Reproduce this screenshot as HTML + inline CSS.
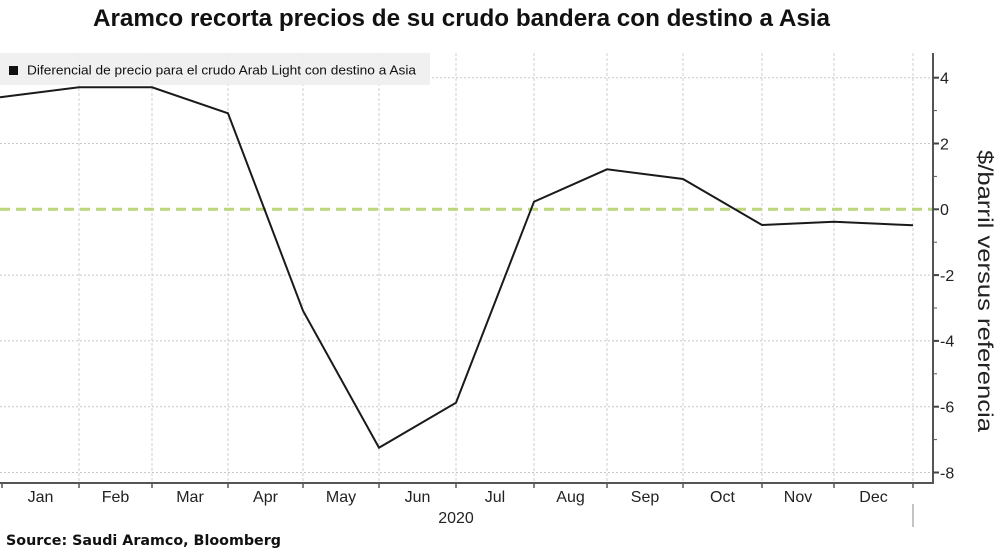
<!DOCTYPE html>
<html>
<head>
<meta charset="utf-8">
<style>
html,body{margin:0;padding:0;background:#fff;}
svg{display:block;}
</style>
</head>
<body>
<svg width="1000" height="550" viewBox="0 0 1000 550" xmlns="http://www.w3.org/2000/svg">
  <rect x="0" y="0" width="1000" height="550" fill="#fff"/>
  <!-- Title -->
  <text x="93" y="26" font-family="Liberation Sans, sans-serif" font-weight="bold" font-size="24" fill="#111" textLength="737" lengthAdjust="spacingAndGlyphs">Aramco recorta precios de su crudo bandera con destino a Asia</text>

  <!-- horizontal gridlines -->
  <g stroke="#c8c8c8" stroke-width="1" stroke-dasharray="2,2">
    <line x1="0" y1="77.7" x2="933" y2="77.7"/>
    <line x1="0" y1="143.5" x2="933" y2="143.5"/>
    <line x1="0" y1="275.1" x2="933" y2="275.1"/>
    <line x1="0" y1="340.9" x2="933" y2="340.9"/>
    <line x1="0" y1="406.7" x2="933" y2="406.7"/>
    <line x1="0" y1="472.5" x2="933" y2="472.5"/>
  </g>
  <!-- vertical gridlines -->
  <g stroke="#cfcfcf" stroke-width="1" stroke-dasharray="3,2">
    <line x1="79" y1="53" x2="79" y2="483"/>
    <line x1="152" y1="53" x2="152" y2="483"/>
    <line x1="228" y1="53" x2="228" y2="483"/>
    <line x1="303" y1="53" x2="303" y2="483"/>
    <line x1="379" y1="53" x2="379" y2="483"/>
    <line x1="456" y1="53" x2="456" y2="483"/>
    <line x1="534" y1="53" x2="534" y2="483"/>
    <line x1="607" y1="53" x2="607" y2="483"/>
    <line x1="683" y1="53" x2="683" y2="483"/>
    <line x1="762" y1="53" x2="762" y2="483"/>
    <line x1="834" y1="53" x2="834" y2="483"/>
    <line x1="913" y1="53" x2="913" y2="483"/>
  </g>

  <!-- legend -->
  <rect x="0" y="53" width="430" height="32" fill="#eeeeee" opacity="0.9"/>
  <rect x="9" y="66" width="9" height="9" fill="#111"/>
  <text x="27" y="74.5" font-family="Liberation Sans, sans-serif" font-size="13" fill="#111" textLength="389" lengthAdjust="spacingAndGlyphs">Diferencial de precio para el crudo Arab Light con destino a Asia</text>

  <!-- zero line -->
  <line x1="0" y1="209.3" x2="933" y2="209.3" stroke="#bcd67e" stroke-width="3" stroke-dasharray="10,6"/>

  <!-- series -->
  <polyline fill="none" stroke="#1a1a1a" stroke-width="2" stroke-linejoin="miter"
    points="0,97.3 79,87.3 152,87.3 228,113.3 303,310.7 379,447.7 456,402.7 534,201.7 607,169.3 683,179 762,225 834,221.7 913,225.3"/>

  <!-- axes -->
  <line x1="0" y1="483" x2="933.5" y2="483" stroke="#555" stroke-width="2"/>
  <line x1="933" y1="53" x2="933" y2="484" stroke="#555" stroke-width="2"/>
  <!-- x ticks -->
  <g stroke="#555" stroke-width="1.5">
    <line x1="2" y1="483" x2="2" y2="488"/>
    <line x1="79" y1="483" x2="79" y2="488"/>
    <line x1="152" y1="483" x2="152" y2="488"/>
    <line x1="228" y1="483" x2="228" y2="488"/>
    <line x1="303" y1="483" x2="303" y2="488"/>
    <line x1="379" y1="483" x2="379" y2="488"/>
    <line x1="456" y1="483" x2="456" y2="488"/>
    <line x1="534" y1="483" x2="534" y2="488"/>
    <line x1="607" y1="483" x2="607" y2="488"/>
    <line x1="683" y1="483" x2="683" y2="488"/>
    <line x1="762" y1="483" x2="762" y2="488"/>
    <line x1="834" y1="483" x2="834" y2="488"/>
    <line x1="913" y1="483" x2="913" y2="488"/>
  </g>
  <line x1="913" y1="504" x2="913" y2="527" stroke="#888" stroke-width="1"/>
  <!-- y ticks -->
  <g stroke="#444" stroke-width="2">
    <line x1="933" y1="77.7" x2="939" y2="77.7"/>
    <line x1="933" y1="143.5" x2="939" y2="143.5"/>
    <line x1="933" y1="209.3" x2="939" y2="209.3"/>
    <line x1="933" y1="275.1" x2="939" y2="275.1"/>
    <line x1="933" y1="340.9" x2="939" y2="340.9"/>
    <line x1="933" y1="406.7" x2="939" y2="406.7"/>
    <line x1="933" y1="472.5" x2="939" y2="472.5"/>
  </g>
  <g stroke="#555" stroke-width="1">
    <line x1="933" y1="110.6" x2="937" y2="110.6"/>
    <line x1="933" y1="176.4" x2="937" y2="176.4"/>
    <line x1="933" y1="242.2" x2="937" y2="242.2"/>
    <line x1="933" y1="308" x2="937" y2="308"/>
    <line x1="933" y1="373.8" x2="937" y2="373.8"/>
    <line x1="933" y1="439.6" x2="937" y2="439.6"/>
  </g>
  <!-- y labels -->
  <g font-family="Liberation Sans, sans-serif" font-size="16" fill="#222">
    <text x="940" y="83.5">4</text>
    <text x="940" y="149.3">2</text>
    <text x="940" y="215.1">0</text>
    <text x="940" y="280.9">-2</text>
    <text x="940" y="346.7">-4</text>
    <text x="940" y="412.5">-6</text>
    <text x="940" y="478.3">-8</text>
  </g>
  <!-- y axis title -->
  <text transform="translate(978,291) rotate(90)" text-anchor="middle" font-family="Liberation Sans, sans-serif" font-size="21" fill="#222" textLength="282" lengthAdjust="spacingAndGlyphs">$/barril versus referencia</text>

  <!-- month labels -->
  <g font-family="Liberation Sans, sans-serif" font-size="16" fill="#222" text-anchor="middle">
    <text x="40.5" y="502">Jan</text>
    <text x="115.5" y="502">Feb</text>
    <text x="190" y="502">Mar</text>
    <text x="265.5" y="502">Apr</text>
    <text x="341" y="502">May</text>
    <text x="417.5" y="502">Jun</text>
    <text x="495" y="502">Jul</text>
    <text x="570.5" y="502">Aug</text>
    <text x="645" y="502">Sep</text>
    <text x="722.5" y="502">Oct</text>
    <text x="798" y="502">Nov</text>
    <text x="873.5" y="502">Dec</text>
    <text x="456" y="523">2020</text>
  </g>

  <!-- source -->
  <text x="6" y="545" font-family="DejaVu Sans, Liberation Sans, sans-serif" font-weight="bold" font-size="14" fill="#111" textLength="275" lengthAdjust="spacingAndGlyphs">Source: Saudi Aramco, Bloomberg</text>
</svg>
</body>
</html>
